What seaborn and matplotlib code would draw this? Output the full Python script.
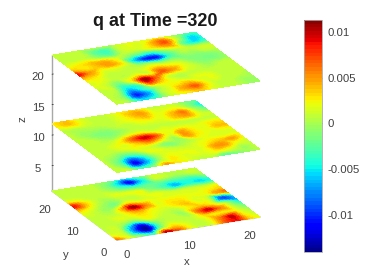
import numpy as np
import matplotlib
matplotlib.use("Agg")
import matplotlib.pyplot as plt
import matplotlib.tri as mtri
from matplotlib.colors import ListedColormap, Normalize
from matplotlib.cm import ScalarMappable
from mpl_toolkits.mplot3d import proj3d
import seaborn as sns

# values, x 1e-3; rows run along y from front, columns along x
q_top = [
 [ 0,-1,-6,-5,-1, 1, 2, 3, 1, 0, 0,-1,-1],
 [ 0,-2,-11,-8,-1, 1, 4, 6, 2, 0, 0,-1,-1],
 [ 0,-1,-8,-5,-1, 1, 2, 3, 1, 1, 0, 0,-1],
 [ 0, 0,-5,-4, 6, 3, 1, 0, 1, 1, 0, 0, 0],
 [ 1, 0,-2, 2,10, 6, 1, 0, 0, 0, 0, 0, 0],
 [ 1, 1, 0, 0, 2, 1, 6, 4, 1, 0,-1, 0, 0],
 [ 3, 2, 0, 0, 0, 1, 3, 2, 1,-1,-2,-2,-1],
 [ 8, 4, 1, 1, 0,-1,-1,-2,-1,-2,-2,-2,-1],
 [ 3, 2, 3, 4, 2,-6,-11,-11,-4,-1,-1, 0, 0],
 [ 1, 2, 3, 3, 1,-2,-4,-5,-2, 0, 0, 0, 0],
 [ 0, 0, 0,-2,-3, 0, 0, 1, 3, 4,-3,-6,-4],
 [ 0, 0, 0,-3,-4, 0, 1, 1, 4, 6, 0,-6,-5],
 [ 0, 0, 0, 0, 0, 0, 1, 1, 1, 1,-1,-3,-3],
]
q_mid = [
 [ 0, 0,-4,-2, 4, 2, 1, 0, 0,-3,-2,-1, 0],
 [ 0,-3,-12,-7,-1, 2, 1, 1, 1, 2, 1,-1, 0],
 [ 0,-3,-9,-6,-1, 1, 1, 1, 1, 4, 4, 1, 0],
 [ 0,-1,-3,-2, 1, 1, 0, 0, 1, 2, 3, 4, 1],
 [ 0, 0, 0, 1, 1, 0,-2,-1, 0, 1, 1, 1, 1],
 [ 0, 0, 1, 1, 3, 5, 2,-1, 4, 2, 1, 1, 1],
 [ 0, 0, 0, 2, 6, 9, 6, 1, 4, 2, 1, 3, 3],
 [ 0, 0,-1,-1, 1, 2, 1, 1, 1, 1, 1, 2, 2],
 [ 0,-1,-2,-2,-1, 0, 0, 0, 0, 0, 0, 0, 0],
 [ 0,-1,-1,-1, 0, 0, 1, 1, 1, 3, 4, 1, 0],
 [ 0, 0, 0, 0, 0, 1, 2, 3, 1, 3, 5, 0,-3],
 [ 2, 3, 1, 0, 0, 1, 3, 4, 1, 1, 1,-2,-6],
 [ 2, 3, 1, 0, 0, 1, 2, 2, 0, 0, 0,-2,-3],
]
q_bot = [
 [ 5, 1,-2,-4, 9, 6, 2, 0, 1, 6, 8, 3, 1],
 [ 1, 0,-9,-14,-3, 2, 1, 0, 1, 5, 9, 2, 0],
 [ 0, 0,-7,-12,-3, 0, 0, 0, 2, 2, 2, 1,-1],
 [ 0, 0,-1,-2, 1, 0, 0,-1, 5, 9, 5, 0,-3],
 [ 0, 0, 1, 1, 2, 1, 0, 0, 2, 3, 1,-2,-6],
 [ 0, 0, 0, 2, 4, 2, 1, 2, 3, 1, 0,-10,-6],
 [ 1, 0,-1, 3,10, 5, 1, 2, 2, 1, 1, 3, 5],
 [ 3, 1,-1,-2, 2, 1, 1, 1, 1, 1, 1, 2, 3],
 [ 8, 3, 0,-1, 0, 0, 1, 1, 0, 0, 0, 0, 1],
 [ 2, 1, 0, 0, 1, 1, 1,-2,-4,-7,-5,-6,-5],
 [ 0, 0, 0, 0,-1,-3,-4,-3,-3,-4,-4,-4,-2],
 [ 0, 0, 0, 0,-2,-6,-12,-6, 0, 0,-1, 0, 0],
 [ 0, 0, 0, 0,-1,-3,-5,-2, 0, 0, 0, 0, 0],
]
background = 0.8
z_levels = [0.83, 11.93, 23.13]
x_ticks = [0, 10, 20]
y_ticks = [0, 10, 20]
z_ticks = [5, 10, 15, 20]
cbar_ticks = [-0.01, -0.005, 0, 0.005, 0.01]
cbar_labels = ["-0.01", "-0.005", "0", "0.005", "0.01"]
vmin, vmax = -0.01404, 0.0113

sns.set_theme(style="white")
plt.rcParams["font.family"] = ["Liberation Sans", "DejaVu Sans"]
GREY = "#404040"
cmap = ListedColormap(sns.mpl_palette("jet", 64))
norm = Normalize(vmin, vmax)

fig = plt.figure(figsize=(3.67, 2.78), dpi=100)
ax = fig.add_axes([0.0, 0.0, 1, 1], projection="3d", computed_zorder=False)
ax.set_proj_type("ortho")
ax.view_init(elev=20.4, azim=-114.8)
xlim, ylim, zlim = (-0.5, 23.5), (-0.5, 22.5), (0.83, 23.13)
ax.set_xlim(*xlim, view_margin=0)
ax.set_ylim(*ylim, view_margin=0)
ax.set_zlim(*zlim, view_margin=0)
ax.patch.set_alpha(0)

nodes_x = np.linspace(*xlim, 13)
nodes_y = np.linspace(*ylim, 13)
NX, NY = np.meshgrid(nodes_x, nodes_y)
tri = mtri.Triangulation(NX.ravel(), NY.ravel())
fx = np.linspace(xlim[0] + 1e-6, xlim[1] - 1e-6, 97)
fy = np.linspace(ylim[0] + 1e-6, ylim[1] - 1e-6, 97)
FX, FY = np.meshgrid(fx, fy)
for level, grid in zip(z_levels, [q_bot, q_mid, q_top]):
    vals = (np.array(grid, float).ravel() + background) * 1e-3
    interp = mtri.CubicTriInterpolator(tri, vals, kind="geom")
    field = np.ma.filled(interp(FX, FY), 0.0)
    ax.plot_surface(FX, FY, np.full_like(FX, level), facecolors=cmap(norm(field)),
                    rcount=97, ccount=97, shade=False, linewidth=0, antialiased=False)

ax.set_xticks(x_ticks, [str(t) for t in x_ticks], ha="left")
ax.set_yticks(y_ticks, [str(t) for t in y_ticks], ha="right")
ax.set_zticks(z_ticks)
for axis in (ax.xaxis, ax.yaxis, ax.zaxis):
    axis.set_pane_color((1, 1, 1, 0))
    axis.pane.set_edgecolor((1, 1, 1, 0))
    axis.line.set_color("#a8a8a8")
    axis.line.set_linewidth(1.0)
    axis._axinfo["tick"]["inward_factor"] = 0.0
    axis._axinfo["tick"]["outward_factor"] = 0.12
    axis._axinfo["tick"]["linewidth"] = {True: 0.5, False: 0.5}
    axis._axinfo["tick"]["color"] = "#808080"
ax.grid(False)
ax.tick_params(labelsize=8.2, labelcolor=GREY, pad=-2)
ax.tick_params(axis="z", pad=-1)
ax.set_zlabel("z", fontsize=8.2, color=GREY, labelpad=-6, rotation=90)
ax.zaxis.set_rotate_label(False)
ax.text2D(187 / 367, 1 - 262 / 278, "x", transform=fig.transFigure, ha="center", va="center",
          fontsize=8.2, color=GREY)
ax.text2D(66 / 367, 1 - 255 / 278, "y", transform=fig.transFigure, ha="center", va="center",
          fontsize=8.2, color=GREY)

# fit the projected box to the reference's frame
aspect = (157.6, 155, 145)
zoom = 1.0
FRONT, RIGHT = (117, 278 - 240), (260, 278 - 217)
def disp(x, y, z):
    X, Y, _ = proj3d.proj_transform(x, y, z, ax.get_proj())
    return ax.transData.transform((X, Y))
for _ in range(3):
    ax.set_box_aspect(aspect, zoom=zoom)
    fig.canvas.draw()
    w = disp(xlim[1], ylim[0], zlim[0])[0] - disp(xlim[0], ylim[0], zlim[0])[0]
    zoom *= (RIGHT[0] - FRONT[0]) / w
ax.set_box_aspect(aspect, zoom=zoom)
fig.canvas.draw()
p = disp(xlim[0], ylim[0], zlim[0])
pos = ax.get_position()
ax.set_position([pos.x0 + (FRONT[0] - p[0]) / 367, pos.y0 + (FRONT[1] - p[1]) / 278, pos.width, pos.height])

fig.suptitle("q at Time =320", x=155 / 367, y=1 - 21 / 278, va="center",
             fontsize=13, fontweight="bold", color="#1a1a1a")

cax = fig.add_axes([304 / 367, 1 - 252 / 278, 18.3 / 367, 232 / 278])
cb = fig.colorbar(ScalarMappable(norm=norm, cmap=cmap), cax=cax)
cb.set_ticks(cbar_ticks, labels=cbar_labels)
cax.tick_params(labelsize=8.2, labelcolor=GREY, length=2, width=0.5, color="#808080", direction="in", pad=4)
cb.outline.set_edgecolor("#a8a8a8")
cb.outline.set_linewidth(0.6)

fig.savefig("out.png", dpi=100)
